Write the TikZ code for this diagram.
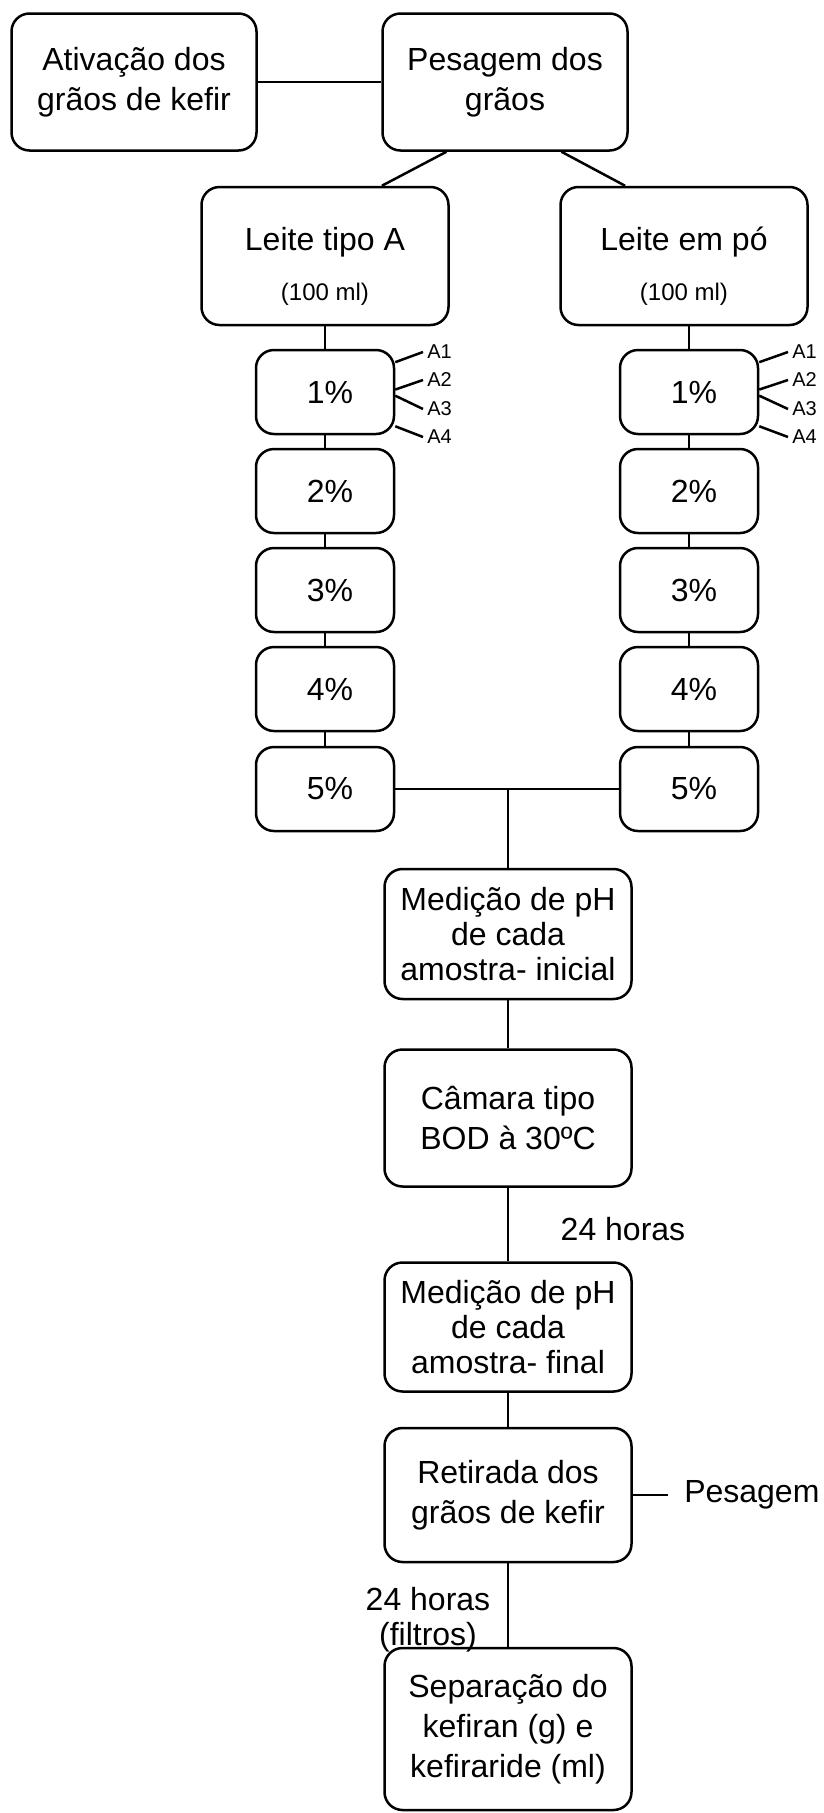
\documentclass[tikz,border=0pt]{standalone}
\usepackage{fontspec}
\setmainfont{Liberation Sans}
\tikzset{
  box/.style={draw, line width=2.5pt, rounded corners=18pt, align=center, inner sep=0pt,
    minimum width=247pt, font=\fontsize{32}{40}\selectfont},
  pct/.style={box, minimum width=138pt, minimum height=84pt, execute at begin node={\hspace*{10pt}}},
  tight/.style={font=\fontsize{32}{35}\selectfont},
  lbl/.style={anchor=west, inner sep=3pt, font=\fontsize{20}{24}\selectfont},
  note/.style={inner sep=0pt, align=center, font=\fontsize{32}{35}\selectfont}
}
\begin{document}
\begin{tikzpicture}[x=1pt, y=-1pt, line width=2.5pt]
      \useasboundingbox (0,0) rectangle (823,1813);
      \draw
        (134,82) node[box, minimum width=245pt, minimum height=137pt] (act){Ativação dos\\grãos de kefir}
        (505,82) node[box, minimum width=245pt, minimum height=137pt] (pes){Pesagem dos\\grãos}
        (325,256) node[box, minimum height=138pt] (leiteA){\rule{0pt}{43pt}Leite tipo A\\[10pt]\fontsize{24}{28}\selectfont (100 ml)}
        (684,256) node[box, minimum height=138pt] (leiteP){\rule{0pt}{43pt}Leite em pó\\[10pt]\fontsize{24}{28}\selectfont (100 ml)}
        (325,392) node[pct] (a1){1\%}
        (325,491) node[pct] (a2){2\%}
        (325,590) node[pct] (a3){3\%}
        (325,689) node[pct] (a4){4\%}
        (325,789) node[pct] (a5){5\%}
        (689,392) node[pct] (b1){1\%}
        (689,491) node[pct] (b2){2\%}
        (689,590) node[pct] (b3){3\%}
        (689,689) node[pct] (b4){4\%}
        (689,789) node[pct] (b5){5\%}
        (423,352) node[lbl] (la1){A1}
        (423,380) node[lbl] (la2){A2}
        (423,409) node[lbl] (la3){A3}
        (423,437) node[lbl] (la4){A4}
        (788,352) node[lbl] (lb1){A1}
        (788,380) node[lbl] (lb2){A2}
        (788,409) node[lbl] (lb3){A3}
        (788,437) node[lbl] (lb4){A4}
        (508,934) node[box, tight, minimum height=130pt] (med1){Medição de pH\\de cada\\amostra- inicial}
        (508,1118) node[box, minimum height=137pt] (cam){Câmara tipo\\BOD à 30ºC}
        (508,1327) node[box, tight, minimum height=129pt] (med2){Medição de pH\\de cada\\amostra- final}
        (508,1495) node[box, minimum height=134pt] (ret){Retirada dos\\grãos de kefir}
        (508,1729) node[box, minimum height=162pt] (sep){Separação do\\kefiran (g) e\\kefiraride (ml)}
        (623,1229) node[note] (h24){24 horas}
        (428,1620) node[note] (h24f){24 horas\\(filtros)}
        (668,1495) node[note, anchor=west, inner xsep=15pt] (pw){Pesagem};
      \coordinate (j) at (508,789);
      \begin{scope}[-]
        \draw (act) to (pes);
        \draw (pes.230) to (leiteA.51);
        \draw (pes.309) to (leiteP.130);
        \draw (leiteA) to (a1);
        \draw (a1) to (a2);
        \draw (a2) to (a3);
        \draw (a3) to (a4);
        \draw (a4) to (a5);
        \draw (b1.north) to (b1.north |- leiteP.south);
        \draw (b1) to (b2);
        \draw (b2) to (b3);
        \draw (b3) to (b4);
        \draw (b4) to (b5);
        \draw (a1.23) to (la1.west);
        \draw (a1.2) to (la2.west);
        \draw (a1.-3) to (la3.west);
        \draw (a1.-26) to (la4.west);
        \draw (b1.23) to (lb1.west);
        \draw (b1.2) to (lb2.west);
        \draw (b1.-3) to (lb3.west);
        \draw (b1.-26) to (lb4.west);
        \draw (a5) to (b5);
        \draw (j) to (med1);
        \draw (med1) to (cam);
        \draw (cam) to (med2);
        \draw (med2) to (ret);
        \draw (ret) to (pw);
        \draw (ret) to (sep);
      \end{scope}
    \end{tikzpicture}
\end{document}
